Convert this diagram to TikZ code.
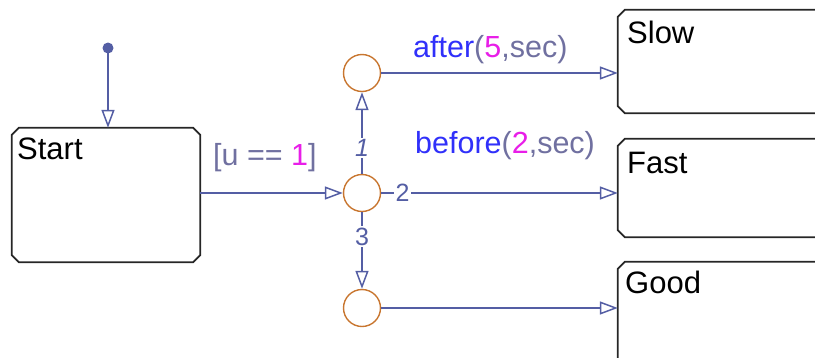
\documentclass[tikz,border=0pt]{standalone}
\usepackage{fontspec}
\setmainfont{Liberation Sans}
\usepackage{xcolor}
\usepackage{tikz}
\usetikzlibrary{arrows.meta, calc, positioning}
\definecolor{wireBlue}{RGB}{84,94,164}
\definecolor{junctionOrange}{RGB}{200,118,48}
\definecolor{eventBlue}{RGB}{48,48,250}
\definecolor{argGray}{RGB}{112,112,160}
\definecolor{numMagenta}{RGB}{232,30,232}
\def\junctionX{362}
\def\chamfer{7}

\begin{document}
\begin{tikzpicture}[x=1pt, y=-1pt,
    stateBox/.style={rectangle, inner sep=0pt, minimum width=#1},
    stateEdge/.style={draw=black!85, line width=1.7pt},
    stateName/.style={anchor=base west, inner sep=0pt, font=\fontsize{31}{36}\selectfont},
    junction/.style={circle, draw=junctionOrange, line width=1.4pt, minimum size=37pt, inner sep=0pt},
    wire/.style={draw=wireBlue, line width=1.5pt},
    wireArrow/.style={wire, -{Triangle[open, length=18pt, width=13pt]}},
    orderNum/.style={fill=white, inner sep=1.5pt, text=wireBlue, font=\fontsize{25}{28}\selectfont},
    guardText/.style={anchor=base west, inner sep=0pt, text=argGray, font=\fontsize{30.5}{36}\selectfont}]

    \useasboundingbox (0,0) rectangle (815,357);

    % states
    \node[stateBox=188pt, minimum height=134pt] (start) at (106,195) {};
    \node[stateBox=222pt, minimum height=103pt] (slow) at (729,61.5) {};
    \node[stateBox=222pt, minimum height=98pt] (fast) at (729,188) {};
    \node[stateBox=222pt, minimum height=118pt] (good) at (729,321) {};
    \foreach \s in {start,slow,fast,good} {
        \draw[stateEdge] ($(\s.north west)+(\chamfer,0)$) -- ($(\s.north east)+(-\chamfer,0)$)
            -- ($(\s.north east)+(0,\chamfer)$) -- ($(\s.south east)+(0,-\chamfer)$)
            -- ($(\s.south east)+(-\chamfer,0)$) -- ($(\s.south west)+(\chamfer,0)$)
            -- ($(\s.south west)+(0,-\chamfer)$) -- ($(\s.north west)+(0,\chamfer)$) -- cycle;
    }
    \node[stateName] (startName) at (17,159) {Start};
    \node[stateName] (slowName) at (627,43) {Slow};
    \node[stateName] (fastName) at (627,173) {Fast};
    \node[stateName] (goodName) at (625,293) {Good};

    % junctions
    \node[junction] (topJunction) at (\junctionX,73) {};
    \node[junction] (midJunction) at (\junctionX,193) {};
    \node[junction] (lowJunction) at (\junctionX,308) {};

    % default transition
    \fill[wireBlue] (108,48) circle (5.5pt) coordinate (initDot);
    \draw[wireArrow] (initDot) -- (initDot |- start.north);

    % transitions
    \draw[wireArrow] (start.east |- midJunction) -- (midJunction);
    \draw[wireArrow] (midJunction) -- node[orderNum, pos=0.32, font=\fontsize{25}{28}\itshape] (oneNum) {1} (topJunction);
    \draw[wireArrow] (midJunction) -- node[orderNum, pos=0.09] (twoNum) {2} (midJunction -| fast.west);
    \draw[wireArrow] (midJunction) -- node[orderNum, pos=0.32] (threeNum) {3} (lowJunction);
    \draw[wireArrow] (topJunction) -- (topJunction -| slow.west);
    \draw[wireArrow] (lowJunction) -- (lowJunction -| good.west);

    % labels
    \node[guardText] (guardLabel) at (213,165) {[u == \textcolor{numMagenta}{1}]};
    \node[guardText] (afterLabel) at (413,57) {\textcolor{eventBlue}{after}(\textcolor{numMagenta}{5},sec)};
    \node[guardText] (beforeLabel) at (415,153) {\textcolor{eventBlue}{before}(\textcolor{numMagenta}{2},sec)};

\end{tikzpicture}
\end{document}
